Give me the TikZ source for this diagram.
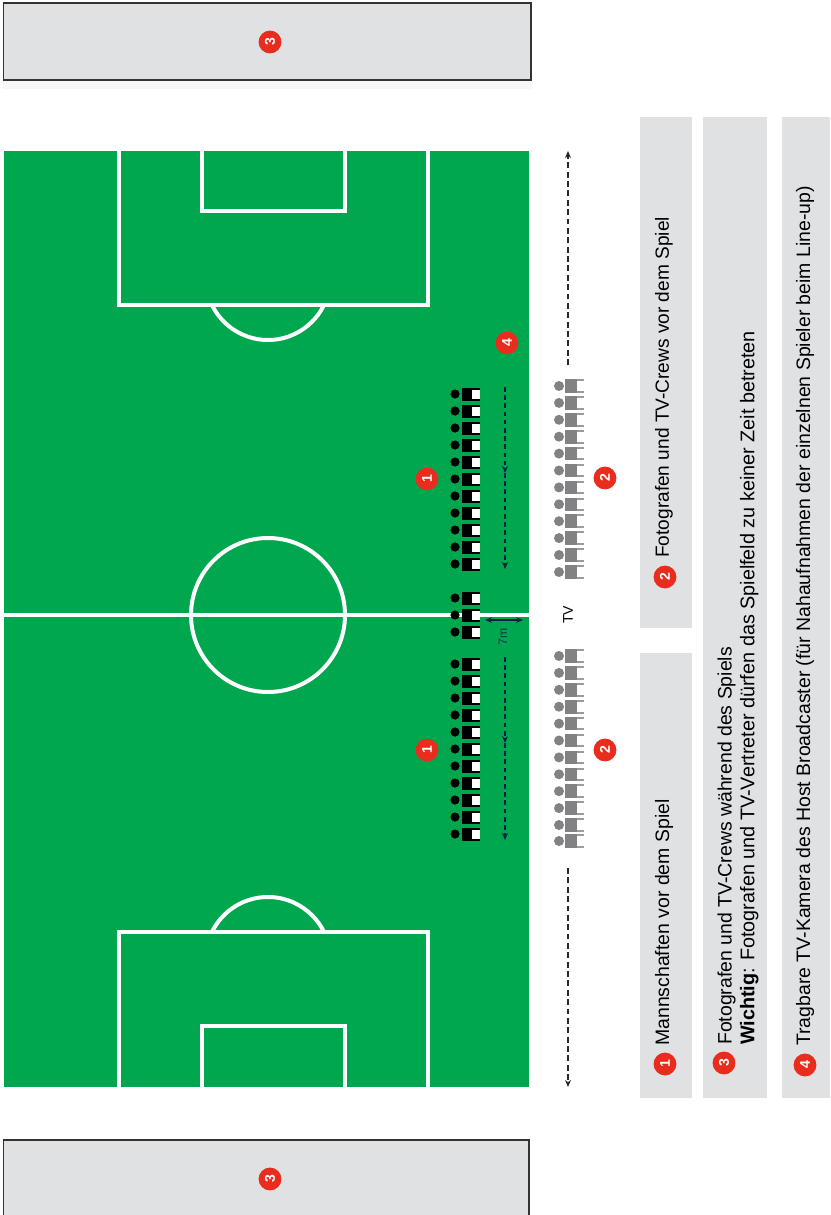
\documentclass[tikz,border=0pt]{standalone}
\usepackage{fontspec}
\setmainfont{Liberation Sans}
\usetikzlibrary{arrows.meta}
\definecolor{pitchgreen}{RGB}{0, 167, 79}
\definecolor{panelgrey}{RGB}{224, 225, 227}
\definecolor{badgered}{RGB}{232, 45, 30}
\definecolor{crewgrey}{RGB}{130, 130, 132}
\definecolor{arrownavy}{RGB}{10, 30, 70}
\tikzset{
  panel/.style={fill=panelgrey, draw=none},
  zone/.style={fill=panelgrey, draw=black!80, line width=1.7pt},
  pitchline/.style={draw=white, line width=3.4pt},
  badge/.style={circle, fill=badgered, text=white, inner sep=0pt, minimum size=19.5pt,
                rotate=90, font=\fontsize{12}{12}\selectfont\bfseries},
  note/.style={rotate=90, anchor=west, inner sep=0pt, align=left, text=black,
               font=\fontsize{16.6}{19.4}\selectfont},
  walk/.style={-{Stealth[length=6pt, width=5pt]}, line width=1pt, dash pattern=on 4pt off 3pt, color=arrownavy},
  track/.style={-{Stealth[length=6pt, width=5pt]}, line width=1pt, dash pattern=on 5pt off 3pt, color=black!85},
}
\begin{document}
\begin{tikzpicture}[x=0.03cm, y=-0.03cm]
        \useasboundingbox (0,0) rectangle (830,1215);
        \fill[white] (0,0) rectangle (830,1215);

        \fill[black!3] (3,80) rectangle (531,89);
        \draw[zone] (3.5,3.5) rectangle (531,80);
        \draw[zone] (3.5,1139.5) rectangle (529,1218);
        \node[badge] (zoneA) at (270,42) {3};
        \node[badge] (zoneB) at (270,1179) {3};

        \fill[pitchgreen] (4,151) rectangle (529,1087);
        \draw[pitchline] (4,615) -- (531,615);
        \draw[pitchline] (268,615) circle (77);
        \draw[pitchline] (119,151) -- (119,305) -- (428,305) -- (428,151);
        \draw[pitchline] (202,151) -- (202,211) -- (345,211) -- (345,151);
        \draw[pitchline] (212,305) arc[start angle=154, end angle=26, radius=62.3];
        \draw[pitchline] (119,1087) -- (119,932) -- (428,932) -- (428,1087);
        \draw[pitchline] (202,1087) -- (202,1026) -- (345,1026) -- (345,1087);
        \draw[pitchline] (212,932) arc[start angle=206, end angle=334, radius=62.3];

        \foreach \ypos in {394,411,428,445,462,479,496,513,530,547,564,
                           598,615,632,
                           664,681,698,715,732,749,766,783,800,817,834} {
          \fill[black] (455,\ypos) circle (4.6);
          \fill[black] (462,\ypos-6.5) rectangle (480,\ypos+6.5);
          \fill[white] (472,\ypos-4.5) rectangle (479.5,\ypos+4.5);
        }

        \foreach \ypos in {386,402.9,419.8,436.7,453.6,470.5,487.4,504.3,521.2,538.1,555,572,
                           656,672.9,689.8,706.7,723.6,740.5,757.4,774.3,791.2,808.1,825,841} {
          \fill[crewgrey] (559,\ypos) circle (5);
          \fill[crewgrey] (565,\ypos-6.8) rectangle (577,\ypos+6.8);
          \fill[crewgrey!80] (577,\ypos-6.8) rectangle (584,\ypos-4.8);
          \fill[crewgrey!80] (577,\ypos+4.8) rectangle (584,\ypos+6.8);
        }

        \coordinate (walkAtop) at (505,387);
        \coordinate (walkAmid) at (505,473);
        \coordinate (walkAend) at (505,569);
        \coordinate (walkBtop) at (505,657);
        \coordinate (walkBmid) at (505,743);
        \coordinate (walkBend) at (505,840);
        \draw[walk] (walkAtop) -- (walkAmid);
        \draw[walk] (walkAmid) -- (walkAend);
        \draw[walk] (walkBtop) -- (walkBmid);
        \draw[walk] (walkBmid) -- (walkBend);

        \coordinate (sevenA) at (485,620);
        \coordinate (sevenB) at (523,620);
        \draw[{Stealth[length=6pt, width=5pt]}-{Stealth[length=6pt, width=5pt]}, line width=1pt, color=arrownavy] (sevenA) -- (sevenB);
        \node[rotate=90, inner sep=0pt, text=arrownavy!80!pitchgreen, font=\fontsize{10.5}{10.5}\selectfont] (seven) at (503,637) {7m};

        \coordinate (trackAstart) at (568,365);
        \coordinate (trackAend) at (568,151);
        \coordinate (trackBstart) at (568,868);
        \coordinate (trackBend) at (568,1087);
        \draw[track] (trackAstart) -- (trackAend);
        \draw[track] (trackBstart) -- (trackBend);
        \node[rotate=90, inner sep=0pt, font=\fontsize{12}{12}\selectfont] (tv) at (568,615) {TV};

        \node[badge] (teamA) at (427,479) {1};
        \node[badge] (teamB) at (427,750) {1};
        \node[badge] (crewA) at (605,478) {2};
        \node[badge] (crewB) at (605,750) {2};
        \node[badge] (camera) at (507,343) {4};

        \fill[panel] (640,653) rectangle (692,1098);
        \fill[panel] (640,117) rectangle (692,628);
        \fill[panel] (703,117) rectangle (767,1098);
        \fill[panel] (782,117) rectangle (830,1098);

        \node[badge] (keyA) at (665,1064) {1};
        \node[note] (textA) at (664,1046) {Mannschaften vor dem Spiel};
        \node[badge] (keyB) at (665,577) {2};
        \node[note, font=\fontsize{16.3}{19.4}\selectfont] (textB) at (664,558) {Fotografen und TV-Crews vor dem Spiel};
        \node[badge] (keyC) at (724,1063) {3};
        \node[note] (textC) at (738,1045) {Fotografen und TV-Crews während des Spiels\\
              \fontsize{16.9}{19.4}\selectfont\textbf{Wichtig}: Fotografen und TV-Vertreter dürfen das Spielfeld zu keiner Zeit betreten};
        \node[badge] (keyD) at (805,1065) {4};
        \node[note] (textD) at (805,1046) {Tragbare TV-Kamera des Host Broadcaster (für Nahaufnahmen der einzelnen Spieler beim Line-up)};
\end{tikzpicture}
\end{document}
